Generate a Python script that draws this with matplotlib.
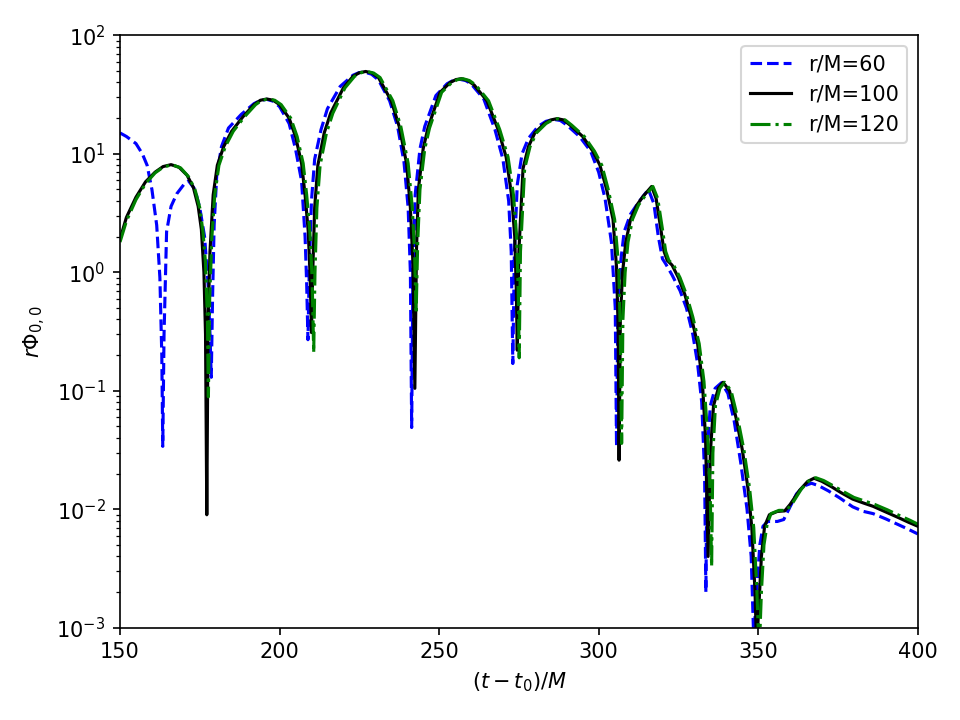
import numpy as np
import matplotlib
matplotlib.use("Agg")
import matplotlib.pyplot as plt

# r/M=60 (blue dashed)
t60 = [150, 152, 155, 157, 158.5, 160, 161.5, 162.5, 163.1, 163.4, 163.8, 164.6, 166, 167.8, 170, 171.5,
       173.5, 175, 176.5, 177.6, 178.2, 178.6, 179.0, 179.5, 180.3, 181.8, 184, 188, 192, 194, 196, 198, 200, 203,
       205, 206.9, 208, 208.5, 208.9, 209.3, 210, 211, 213, 215, 219, 223, 224.8, 226.5, 228.8, 231, 234.5, 237, 239,
       240.3, 241, 241.4, 241.8, 242.5, 244, 245.5, 249, 252.5, 254.5, 256.5, 258.3, 260, 264, 267.5, 270, 271.8, 272.6,
       273.1, 273.6, 274.5, 276, 278, 281, 283.5, 286, 288, 290, 294, 297.5, 300, 302, 304, 305.2, 305.6, 306, 307,
       308, 310, 312.5, 315.6, 317.3, 318.7, 320, 321, 323, 325.5, 327.5, 329.5, 331, 332.3, 333.2, 333.6,
       334, 335, 336.5, 338.5, 340.5, 342.5, 344.5, 346.5, 347.8, 348.6, 349.5, 350.5, 351.5, 353, 356,
       358, 360, 362, 364.5, 366.7, 369, 372, 375.5, 379.6, 383, 386, 390, 394, 397, 400]
phi60 = [15, 14, 12.2, 10, 8.0, 5.0, 2.5, 0.9, 0.2, 0.034, 0.3, 2.2, 3.6, 4.6, 5.5, 5.9,
         5.0, 3.5, 2.0, 0.8, 0.3, 0.13, 0.6, 2.5, 6.5, 11.5, 16.5, 21.5, 26.5, 28.2, 28.8, 27.8, 25, 18,
         11, 5.9, 2.0, 0.8, 0.27, 1.0, 4.0, 9.0, 16, 24, 37, 46, 48.3, 49, 47, 42, 28, 17, 8.5,
         3.5, 1.0, 0.049, 1.0, 4.5, 11, 17, 31, 39, 41.7, 42.5, 41.5, 39, 29, 16, 9, 4.0, 1.5,
         0.17, 1.5, 5.5, 10, 13.5, 17, 18.8, 19.5, 19.1, 17.5, 14, 10.5, 7.0, 4.2, 1.8, 0.5, 0.034, 0.4, 1.3,
         2.2, 3.1, 3.9, 5.0, 3.8, 2.0, 1.3, 1.18, 0.95, 0.7, 0.5, 0.3, 0.17, 0.08, 0.02, 0.002,
         0.03, 0.075, 0.105, 0.117, 0.095, 0.055, 0.025, 0.01, 0.004, 0.0008, 0.002, 0.005, 0.0072, 0.0079, 0.0079,
         0.0082, 0.0105, 0.0135, 0.0158, 0.0166, 0.0158, 0.0143, 0.0125, 0.0105, 0.0096, 0.0092, 0.0083, 0.0074, 0.0068, 0.0062]

# r/M=100 (black solid)
t100 = [150, 152, 155, 158, 161, 163.5, 166, 168.5, 171, 173, 174.5, 175.5, 176.3, 176.8, 177.2, 177.6,
        178.2, 179.2, 180.5, 182.5, 185, 188.5, 192, 194, 196, 198, 200, 203, 205, 206.9, 208, 209, 209.6, 210.0,
        210.4, 211, 212, 214, 216, 220, 223, 225, 227, 229, 231, 235, 237.5, 239.8, 241, 241.8, 242.4, 242.9, 243.5,
        245, 246.5, 250.3, 253.5, 255.3, 257, 259, 261, 265, 268.5, 271, 272.7, 273.7, 274.2, 274.5, 275, 276.3, 278,
        280, 283, 285, 287, 289, 291, 295, 298.2, 300.4, 302.5, 304.5, 305.6, 306.1, 306.4, 306.8, 307.5, 308.5, 310,
        312, 314, 316.6, 318, 319.5, 320.5, 321.5, 323, 325, 327, 329, 331, 332.5, 333.5, 334.3, 335, 336,
        337.5, 339, 341, 343, 345, 346.8, 348, 349, 349.5, 350.2, 351, 352, 353.5, 356, 358.3, 360, 363,
        365.5, 367.5, 370, 373, 376, 379.6, 383, 386, 390, 394, 397, 400]
phi100 = [1.9, 2.9, 4.3, 5.8, 7.0, 7.8, 8.1, 7.7, 6.6, 5.2, 3.6, 2.3, 1.0, 0.3, 0.009, 0.4,
          1.5, 4.5, 8.0, 11.5, 15.5, 20.5, 26, 28.3, 29, 28.3, 26, 20, 14, 8.3, 4.5, 2.2, 0.9, 0.31,
          1.0, 3.5, 8.0, 15, 22, 36, 45, 48.3, 49.5, 48, 44, 28, 17, 8.3, 3.5, 1.2, 0.105, 1.5, 5.0,
          11, 16.5, 33, 40, 42.3, 43, 41.5, 38, 28, 16, 9.4, 4.5, 2.0, 0.7, 0.22, 1.5, 7.5, 11.5,
          15, 18, 19.3, 19.8, 19.3, 17.5, 14, 10.5, 8.0, 5.0, 2.8, 1.1, 0.35, 0.026, 0.4, 1.0, 1.8, 2.8,
          3.7, 4.4, 5.3, 4.2, 2.3, 1.5, 1.26, 1.15, 0.9, 0.65, 0.42, 0.25, 0.12, 0.04, 0.004, 0.03, 0.075,
          0.105, 0.118, 0.1, 0.06, 0.032, 0.015, 0.007, 0.002, 0.0007, 0.0015, 0.004, 0.0072, 0.009, 0.0096, 0.0097, 0.011, 0.0145,
          0.0172, 0.0183, 0.0172, 0.0155, 0.0138, 0.0122, 0.0113, 0.0106, 0.0095, 0.0085, 0.0078, 0.0072]

# r/M=120 (green dash-dot)
t120 = [150, 152, 155, 158, 161, 163.5, 166.3, 169, 171.5, 173.5, 175, 176, 176.8, 177.4, 177.7, 178.1,
        178.8, 179.7, 181, 183, 185.5, 189, 192.5, 194.5, 196.5, 198.5, 200.5, 203.5, 205.5, 207.4, 208.5, 209.5, 210.2,
        210.7, 211.1, 211.7, 212.7, 214.7, 216.7, 220.5, 223.5, 225.5, 227.5, 229.5, 231.5, 235.5, 238, 240.3, 241.6,
        242.3, 242.8, 243.3, 244, 245.5, 247, 250.8, 254, 255.8, 257.5, 259.5, 261.5, 265.5, 269, 271.6, 273.3, 274.3,
        274.8, 275.1, 275.5, 276.8, 278.5, 280.5, 283.5, 285.5, 287.5, 289.5, 291.5, 295.5, 298.7, 301, 303, 305, 306.3,
        306.8, 307.2, 307.6, 308.3, 309.2, 310.6, 312.5, 314.5, 317, 318.5, 320, 321, 322, 323.5, 325.5,
        327.5, 329.5, 331.5, 333, 334.2, 335.0, 335.4, 335.8, 336.6, 338, 339.5, 341.5, 343.5, 345.5, 347.3,
        348.6, 349.6, 350.3, 351, 351.8, 352.8, 354, 356.5, 358.8, 360.5, 363.5, 366, 368, 370.5, 373.5,
        376.5, 380, 383.5, 386.5, 390.5, 394.5, 397.5, 400]
phi120 = [1.8, 2.7, 4.1, 5.6, 6.9, 7.7, 8.1, 7.6, 6.4, 5.0, 3.5, 2.2, 1.2, 0.4, 0.089, 0.6,
          2.0, 4.5, 8.0, 11.5, 15.5, 20.5, 26, 28.3, 29, 28.3, 26, 20, 14, 8.3, 4.5, 2.2, 0.9,
          0.21, 1.0, 3.5, 8.0, 15, 22, 36, 45, 48.3, 49.5, 48, 44, 28, 17, 8.3, 3.5,
          1.5, 0.45, 1.8, 5.0, 11, 16.5, 33, 40, 42.3, 43, 41.5, 38, 28, 16, 9.4, 4.5, 2.0,
          0.7, 0.19, 1.5, 7.5, 11.5, 15, 18, 19.3, 19.8, 19.3, 17.5, 14, 10.5, 8.0, 5.0, 2.8, 1.1,
          0.3, 0.036, 0.4, 1.0, 1.8, 2.8, 3.7, 4.4, 5.3, 4.2, 2.3, 1.5, 1.26, 1.15, 0.9,
          0.65, 0.42, 0.25, 0.12, 0.04, 0.012, 0.0033, 0.03, 0.075, 0.105, 0.118, 0.1, 0.06, 0.032, 0.015,
          0.007, 0.002, 0.0006, 0.002, 0.005, 0.0075, 0.0092, 0.0098, 0.0098, 0.011, 0.0148, 0.0175, 0.0185, 0.0175, 0.0158,
          0.0142, 0.0126, 0.0117, 0.011, 0.0099, 0.0088, 0.0081, 0.0075]

fig, ax = plt.subplots(figsize=(6.4, 4.8), dpi=150)
ax.semilogy(t60, phi60, 'b--', label='r/M=60')
ax.semilogy(t100, phi100, 'k-', label='r/M=100')
ax.semilogy(t120, phi120, 'g-.', label='r/M=120')
ax.set_xlim(150, 400)
ax.set_ylim(1e-3, 1e2)
ax.set_xlabel(r'$(t-t_0)/M$')
ax.set_ylabel(r'$r\Phi_{0,0}$')
ax.legend(loc='upper right')
fig.subplots_adjust(left=0.125, right=0.956, top=0.951, bottom=0.128)
fig.savefig('out.png', dpi=150)
